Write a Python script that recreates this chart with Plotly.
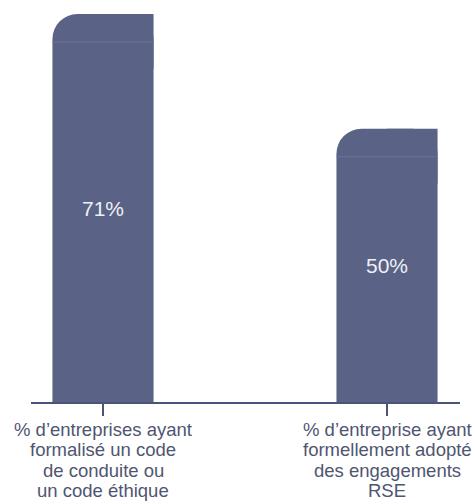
import plotly.graph_objects as go

category_lines = [
    ["% d’entreprises ayant", "formalisé un code", "de conduite ou", "un code éthique"],
    ["% d’entreprise ayant", "formellement adopté", "des engagements", "RSE"],
]
values = [71, 50]
value_labels = ["71%", "50%"]
positions = [0, 1]

BAR = "#5a6285"
SEP = "#6b7396"
AXIS = "#4a5478"
LABEL = "#4f5571"
BAR_W = 0.356
PX_PER_Y = 388 / 71.0
CAP_PX = 28
LINE_GAP = 20.5
FIRST_LINE = 27

fig = go.Figure()
fig.add_trace(go.Bar(
    x=positions, y=values, width=BAR_W,
    marker=dict(color=BAR, line=dict(width=0), cornerradius=25),
    text=value_labels, textposition="inside", insidetextanchor="middle",
    textfont=dict(color="#eef0f6", size=21, family="Liberation Sans"),
    hoverinfo="skip",
))

shapes = []
for xi, v in zip(positions, values):
    # square off top-right corner
    shapes.append(dict(type="rect", xref="x", yref="y",
                       x0=xi, x1=xi + BAR_W / 2, y0=v - 10, y1=v,
                       fillcolor=BAR, line=dict(width=0), layer="above"))
    # thin separator line near the top
    ysep = v - CAP_PX / PX_PER_Y
    shapes.append(dict(type="line", xref="x", yref="y",
                       x0=xi - BAR_W / 2, x1=xi + BAR_W / 2, y0=ysep, y1=ysep,
                       line=dict(color=SEP, width=1), layer="above"))

annotations = []
for xi, lines in zip(positions, category_lines):
    for i, line in enumerate(lines):
        annotations.append(dict(
            x=xi, xref="x", y=0, yref="paper", yanchor="middle", xanchor="center",
            yshift=-(FIRST_LINE + LINE_GAP * i), text=line, showarrow=False,
            font=dict(size=18.5, color=LABEL, family="Liberation Sans"),
        ))

fig.update_layout(
    width=472, height=502,
    margin=dict(l=31, r=12, t=14, b=100),
    paper_bgcolor="white", plot_bgcolor="white",
    showlegend=False,
    shapes=shapes,
    annotations=annotations,
    xaxis=dict(
        range=[-0.2535, 1.257], tickvals=positions, showticklabels=False,
        showgrid=False, zeroline=False, showline=True, linecolor=AXIS, linewidth=2,
        ticks="outside", ticklen=12, tickwidth=2, tickcolor=AXIS,
        automargin=False,
    ),
    yaxis=dict(range=[0, 71], visible=False, showgrid=False, zeroline=False,
               automargin=False),
)

fig.write_html(
    "out.html",
    config={"displayModeBar": False},
    post_script="document.body.style.margin='0px';document.body.style.overflow='hidden';",
)
